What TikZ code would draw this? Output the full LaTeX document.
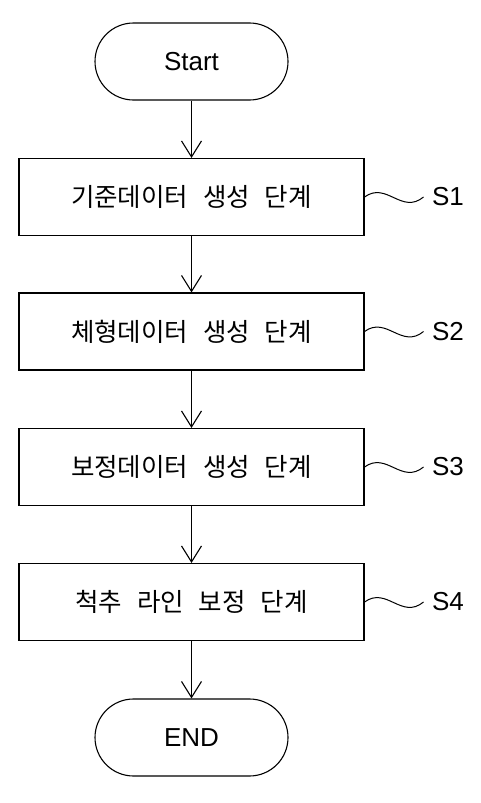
\documentclass[tikz,border=0pt]{standalone}
\usepackage{fontspec}
\setmainfont{Liberation Sans}
\newfontfamily\kr[WordSpace=2.6]{Noto Sans CJK KR}
\usetikzlibrary{arrows.meta,calc}
\begin{document}
\begin{tikzpicture}[x=1pt,y=-1pt,
  line width=1.1pt,
  term/.style={draw, rounded corners=38.5pt, minimum width=193pt, minimum height=77pt, inner sep=0pt, font=\fontsize{26}{30}\selectfont},
  stepbox/.style={draw, minimum width=345pt, minimum height=77pt, inner sep=0pt, font=\kr\fontsize{25.5}{30}\selectfont},
  lab/.style={anchor=west, inner sep=0pt, font=\fontsize{26}{30}\selectfont},
  flow/.style={-{Straight Barb[length=16pt,width=20pt]}},
  wave/.style={line width=1pt}]
\useasboundingbox (0,0) rectangle (481,803);
\node[term] (start) at (191.5,61.5) {Start};
\node[stepbox] (b1) at (191.5,197) {기준데이터 생성 단계};
\node[stepbox] (b2) at (191.5,331.5) {체형데이터 생성 단계};
\node[stepbox] (b3) at (191.5,467) {보정데이터 생성 단계};
\node[stepbox] (b4) at (191.5,602) {척추 라인 보정 단계};
\node[term] (end) at (191.5,737.5) {END};
\draw[flow] (start) -- (b1);
\draw[flow] (b1) -- (b2);
\draw[flow] (b2) -- (b3);
\draw[flow] (b3) -- (b4);
\draw[flow] (b4) -- (end);
\foreach \i in {1,...,4}{
  \node[lab] (s\i) at ($(b\i.east)+(67,0)$) {S\i};
  \draw[wave] (b\i.east) .. controls ($(b\i.east)+(22,-16)$) and ($(s\i.west)+(-30,18)$) .. ($(s\i.west)+(-8,0)$);
}
\end{tikzpicture}
\end{document}
